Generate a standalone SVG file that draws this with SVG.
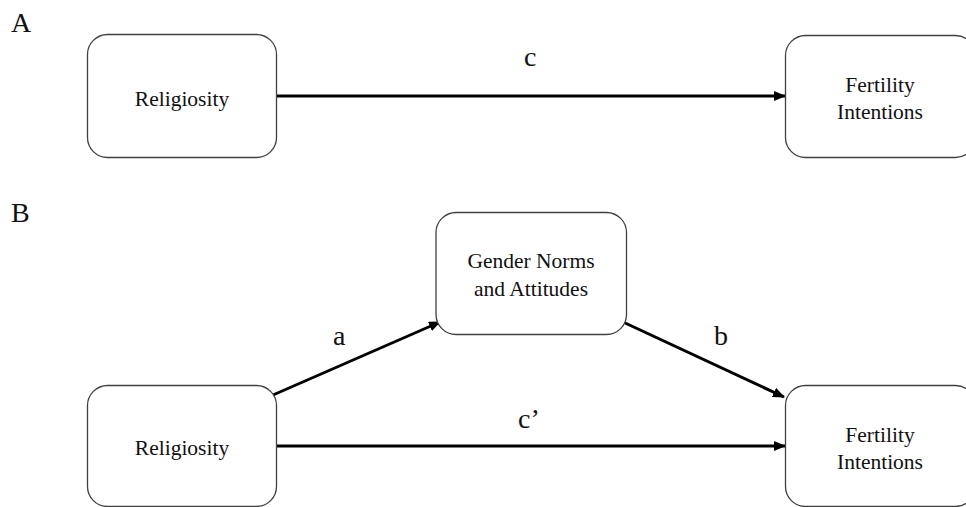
<svg xmlns="http://www.w3.org/2000/svg" width="966" height="507" viewBox="0 0 966 507">
<defs>
<style>
.box{fill:#fff;stroke:#404040;stroke-width:1.3}
.t{font-family:"Liberation Serif","Times New Roman",serif;font-size:21.5px;fill:#111;text-anchor:middle}
.lbl{font-family:"Liberation Serif","Times New Roman",serif;font-size:28px;fill:#111}
.edge{stroke:#000;stroke-width:3;fill:none;marker-end:url(#ah)}
</style>
<marker id="ah" viewBox="0 0 12 10" refX="11" refY="5" markerWidth="12" markerHeight="10" markerUnits="userSpaceOnUse" orient="auto">
<path d="M0,0 L12,5 L0,10 Z" fill="#000"/>
</marker>
</defs>
<rect width="966" height="507" fill="#fff"/>
<text class="lbl" x="11" y="32">A</text>
<text class="lbl" x="11" y="222">B</text>
<g id="connectors">
<line class="edge" x1="277" y1="96" x2="785" y2="96"/>
<line class="edge" x1="273" y1="395" x2="440" y2="322"/>
<line class="edge" x1="623" y1="322" x2="784" y2="397"/>
<line class="edge" x1="277" y1="446" x2="785" y2="446"/>
<text class="lbl" x="524" y="66">c</text>
<text class="lbl" x="333" y="345">a</text>
<text class="lbl" x="714" y="345">b</text>
<text class="lbl" x="518" y="428">c’</text>
</g>
<g id="religiosityA">
<rect class="box" x="87.5" y="34.5" width="189" height="123" rx="20"/>
<text class="t" x="182" y="106">Religiosity</text>
</g>
<g id="fertilityA">
<rect class="box" x="785.5" y="35.5" width="190" height="122" rx="20"/>
<text class="t" x="880" y="92">Fertility</text>
<text class="t" x="880" y="119">Intentions</text>
</g>
<g id="gender">
<rect class="box" x="436" y="212.5" width="190.5" height="122" rx="20"/>
<text class="t" x="531" y="268">Gender Norms</text>
<text class="t" x="531" y="296">and Attitudes</text>
</g>
<g id="religiosityB">
<rect class="box" x="87.5" y="385.5" width="189" height="121" rx="20"/>
<text class="t" x="182" y="455">Religiosity</text>
</g>
<g id="fertilityB">
<rect class="box" x="785.5" y="385.5" width="190" height="121" rx="20"/>
<text class="t" x="880" y="442">Fertility</text>
<text class="t" x="880" y="469">Intentions</text>
</g>
</svg>
